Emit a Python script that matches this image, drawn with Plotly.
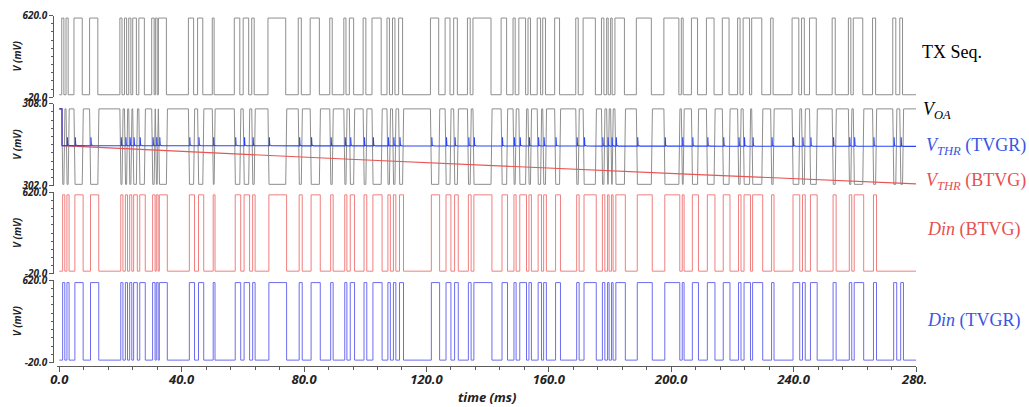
import numpy as np
import plotly.graph_objects as go

# ---------------- data (times in ms, levels in mV) ----------------
tx_rise_ms = [0.8, 2.2, 4.8, 9.9, 19.8, 21.3, 22.7, 24.0, 26.0, 30.2, 31.4, 32.4,
              42.2, 45.2, 50.0, 57.2, 60.1, 62.9, 68.2, 78.1, 82.0, 88.4, 93.0, 94.8,
              99.3, 102.2, 107.1, 108.9, 110.9, 121.3, 126.1, 128.9, 133.4, 135.2,
              144.4, 148.3, 150.2, 153.2, 156.2, 158.0, 161.9, 168.8, 171.2, 177.2,
              178.9, 180.2, 181.6, 188.6, 197.6, 203.3, 206.6, 211.5, 216.7, 221.7,
              223.5, 226.3, 232.5, 239.5, 242.6, 245.2, 252.6, 257.9, 259.5, 265.8,
              272.4, 274.7]
tx_fall_ms = [1.5, 2.9, 7.5, 12.6, 20.5, 22.0, 23.4, 25.2, 27.8, 31.0, 32.0, 35.0,
              43.9, 46.9, 50.6, 59.0, 61.9, 63.7, 74.0, 79.1, 85.0, 89.2, 93.7, 96.2,
              100.2, 105.2, 107.9, 109.7, 112.2, 124.0, 127.7, 130.1, 134.3, 141.1,
              146.2, 149.0, 152.4, 154.0, 157.3, 158.9, 163.5, 169.6, 175.2, 178.0,
              179.4, 180.7, 184.7, 193.5, 202.5, 203.9, 208.6, 214.0, 218.9, 222.5,
              225.6, 229.6, 233.3, 241.7, 243.5, 247.4, 253.6, 258.7, 262.6, 266.8,
              273.4, 275.6]
t_end_ms = 280.0
logic_high_mv = 600.0
logic_low_mv = 0.0

# amplifier output levels and edge time
voa_high_mv = 307.62
voa_low_mv = 302.10
voa_edge_ms = 0.35

# threshold for the time-varying gain receiver (anchors + spike on each detection)
vthr_tvgr_t = [0.0, 0.9, 0.9, 280.0]
vthr_tvgr_v = [307.62, 307.62, 304.93, 304.88]
vthr_spike_mv = 305.55
vthr_spike_lag_ms = 0.45

# threshold for the baseline receiver (slow droop)
vthr_btvg_t = [0.0, 0.9, 0.9, 95.0, 205.0, 280.0]
vthr_btvg_v = [307.62, 307.62, 304.93, 303.93, 302.85, 302.13]

# comparator outputs
din_delay_ms = 0.3
din_btvg_last_ms = 268.0

x_ticks = [0, 40, 80, 120, 160, 200, 240, 280]
x_tick_text = ["0.0", "40.0", "80.0", "120.0", "160.0", "200.0", "240.0", ""]

# ---------------- trace builders ----------------
def logic_wave(rises, falls, delay=0.0, stop=None):
    xs, ys = [0.0], [logic_low_mv]
    for r, f in zip(rises, falls):
        if stop is not None and r > stop:
            break
        xs += [r + delay, r + delay, f + delay, f + delay]
        ys += [logic_low_mv, logic_high_mv, logic_high_mv, logic_low_mv]
    xs.append(t_end_ms)
    ys.append(logic_low_mv)
    return xs, ys


def voa_wave(rises, falls):
    xs, ys = [0.0], [voa_high_mv]
    for r, f in zip(rises, falls):
        xs += [r, r + voa_edge_ms, f, f + voa_edge_ms]
        ys += [voa_high_mv, voa_low_mv, voa_low_mv, voa_high_mv]
    xs.append(t_end_ms)
    ys.append(voa_high_mv)
    return xs, ys


def tvgr_threshold(rises):
    base_t = vthr_tvgr_t[2:]
    base_v = vthr_tvgr_v[2:]
    xs = list(vthr_tvgr_t[:3])
    ys = list(vthr_tvgr_v[:3])
    for r in rises:
        if r < 1.5:
            continue
        ts = r + vthr_spike_lag_ms
        b = float(np.interp(ts, base_t, base_v))
        xs += [ts, ts, ts + 0.12, ts + 0.7]
        ys += [b, vthr_spike_mv, b + 0.06, b]
    xs.append(t_end_ms)
    ys.append(vthr_tvgr_v[-1])
    return xs, ys


# ---------------- figure ----------------
GRAY = "#8e8e8e"
BLUE_LINE = "#2a46f5"
RED_LINE = "#e85555"
DIN_RED = "#f07f7f"
DIN_BLUE = "#6c6cf0"
TXT_BLUE = "#3a55e6"
TXT_RED = "#e65050"

fig = go.Figure()

tx_x, tx_y = logic_wave(tx_rise_ms, tx_fall_ms)
fig.add_trace(go.Scatter(x=tx_x, y=tx_y, mode="lines", line=dict(color=GRAY, width=1),
                         xaxis="x", yaxis="y", hoverinfo="skip"))

voa_x, voa_y = voa_wave(tx_rise_ms, tx_fall_ms)
fig.add_trace(go.Scatter(x=voa_x, y=voa_y, mode="lines", line=dict(color=GRAY, width=1),
                         xaxis="x", yaxis="y2", hoverinfo="skip"))
fig.add_trace(go.Scatter(x=vthr_btvg_t, y=vthr_btvg_v, mode="lines",
                         line=dict(color=RED_LINE, width=1.1),
                         xaxis="x", yaxis="y2", hoverinfo="skip"))
th_x, th_y = tvgr_threshold(tx_rise_ms)
fig.add_trace(go.Scatter(x=th_x, y=th_y, mode="lines", line=dict(color=BLUE_LINE, width=1.1),
                         xaxis="x", yaxis="y2", hoverinfo="skip"))

db_x, db_y = logic_wave(tx_rise_ms, tx_fall_ms, din_delay_ms, din_btvg_last_ms)
fig.add_trace(go.Scatter(x=db_x, y=db_y, mode="lines", line=dict(color=DIN_RED, width=1),
                         xaxis="x", yaxis="y3", hoverinfo="skip"))

dt_x, dt_y = logic_wave(tx_rise_ms, tx_fall_ms, din_delay_ms)
fig.add_trace(go.Scatter(x=dt_x, y=dt_y, mode="lines", line=dict(color=DIN_BLUE, width=1),
                         xaxis="x", yaxis="y4", hoverinfo="skip"))

# geometry
W, H = 1029, 407
ML, MR, MT, MB = 50, 113, 10, 41
PW = W - ML - MR
PH = H - MT - MB


def px(xp):
    return (xp - ML) / PW


def py(yp):
    return (H - MB - yp) / PH


tick_font = dict(family="Open Sans", size=10, color="#222", weight="bold", style="italic")
AX_COLOR = "#5a5a5a"


def y_axis(top_px, bot_px, lo, hi, minor_step):
    return dict(
        domain=[py(bot_px), py(top_px)], range=[lo, hi], anchor="free", position=px(53.3),
        showline=True, linecolor=AX_COLOR, linewidth=1, showgrid=False, zeroline=False,
        ticks="outside", ticklen=4, tickcolor=AX_COLOR, tickmode="array",
        tickvals=[lo, hi], ticktext=[f"{lo:.1f}", f"{hi:.1f}"], tickfont=tick_font,
        automargin=False,
        minor=dict(tickmode="linear", tick0=lo, dtick=minor_step, ticks="outside",
                   ticklen=2.5, tickcolor=AX_COLOR, showgrid=False),
    )


fig.update_layout(
    width=W, height=H, margin=dict(l=ML, r=MR, t=MT, b=MB, autoexpand=False),
    paper_bgcolor="white", plot_bgcolor="white", showlegend=False,
    xaxis=dict(domain=[px(57.3), 1.0], range=[-0.65, t_end_ms], anchor="free", position=0,
               showline=True, linecolor=AX_COLOR, linewidth=1, showgrid=False, zeroline=False,
               ticks="outside", ticklen=5, tickcolor=AX_COLOR, tickmode="array",
               tickvals=x_ticks, ticktext=x_tick_text, automargin=False,
               ticklabelstandoff=-4,
               tickfont=dict(family="Open Sans", size=13, color="#222", weight="bold",
                             style="italic"),
               minor=dict(tickmode="linear", tick0=0, dtick=8, ticks="outside", ticklen=2.5,
                          tickcolor=AX_COLOR, showgrid=False)),
    yaxis=y_axis(15.5, 97.3, -20.0, 620.0, 64.0),
    yaxis2=y_axis(103.7, 185.7, 302.0, 308.0, 0.6),
    yaxis3=y_axis(192.3, 273.7, -20.0, 620.0, 64.0),
    yaxis4=y_axis(280.0, 362.7, -20.0, 620.0, 64.0),
)

anns = []
# axis titles
for top, bot in [(15.5, 97.3), (103.7, 185.7), (192.3, 273.7), (280.0, 362.7)]:
    anns.append(dict(text="V (mV)", x=px(17), y=py((top + bot) / 2), xref="paper", yref="paper",
                     textangle=-90, showarrow=False, xanchor="center", yanchor="middle",
                     font=dict(family="Open Sans", size=10, color="#222", weight="bold",
                               style="italic")))
anns.append(dict(text="time (ms)", x=px(487), y=py(397), xref="paper", yref="paper",
                 showarrow=False, xanchor="center", yanchor="middle",
                 font=dict(family="Open Sans", size=13, color="#222", weight="bold",
                           style="italic")))
anns.append(dict(text="280.", x=px(899), y=py(378.5), xref="paper", yref="paper",
                 showarrow=False, xanchor="left", yanchor="middle",
                 font=dict(family="Open Sans", size=13, color="#222", weight="bold",
                           style="italic")))

# signal names on the right
serif = "Liberation Serif"
labels = [
    ("TX Seq.", 920.5, 52, "black"),
    ("<i>V</i><sub><i>OA</i></sub>", 921, 111, "black"),
    ("<i>V</i><sub><i>THR</i></sub> (TVGR)", 924, 146, TXT_BLUE),
    ("<i>V</i><sub><i>THR</i></sub> (BTVG)", 924, 181, TXT_RED),
    ("<i>Din</i> (BTVG)", 925, 229, TXT_RED),
    ("<i>Din</i> (TVGR)", 925, 320.5, TXT_BLUE),
]
for text, xp, yp, col in labels:
    anns.append(dict(text=text, x=px(xp), y=py(yp), xref="paper", yref="paper",
                     showarrow=False, xanchor="left", yanchor="middle",
                     font=dict(family=serif, size=18, color=col)))

fig.update_layout(annotations=anns)
fig.write_html("out.html")
